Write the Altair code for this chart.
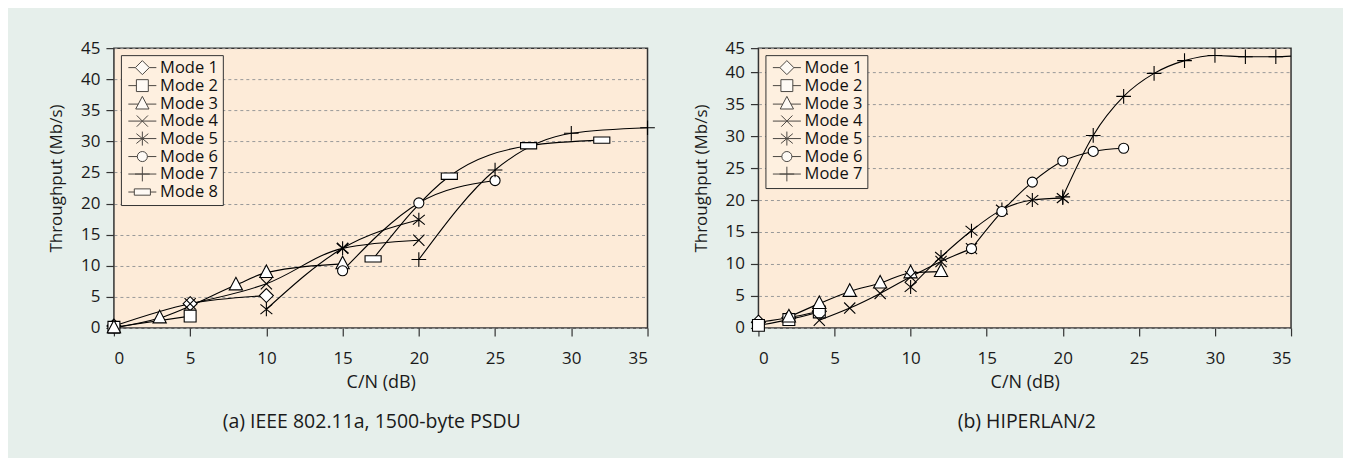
import altair as alt
import pandas as pd

FONT = "Open Sans"
PLOT_BG = "#FDEBD8"
PAGE_BG = "#E6EFEB"

modes_a = ["Mode 1", "Mode 2", "Mode 3", "Mode 4", "Mode 5", "Mode 6", "Mode 7", "Mode 8"]
modes_b = ["Mode 1", "Mode 2", "Mode 3", "Mode 4", "Mode 5", "Mode 6", "Mode 7"]

# (a) IEEE 802.11a, 1500-byte PSDU
a_m1_x = [0, 5, 10];              a_m1_y = [0.3, 3.9, 5.2]
a_m2_x = [0, 5];                  a_m2_y = [0.1, 1.9]
a_m3_x = [0, 3, 8, 10, 15];       a_m3_y = [0.0, 1.6, 6.9, 8.9, 10.3]
a_m4_x = [5, 10, 15, 20];         a_m4_y = [3.9, 7.1, 12.8, 14.1]
a_m5_x = [10, 15, 20];            a_m5_y = [3.0, 12.8, 17.4]
a_m6_x = [15, 20, 25];            a_m6_y = [9.2, 20.1, 23.7]
a_m7_x = [20, 25, 30, 35];        a_m7_y = [11.0, 25.4, 31.3, 32.2]
a_m8_x = [17, 22, 27.2, 32];      a_m8_y = [11.1, 24.4, 29.3, 30.2]

# (b) HIPERLAN/2
b_m1_x = [0, 2, 4];                       b_m1_y = [0.9, 1.6, 2.6]
b_m2_x = [0, 2, 4];                       b_m2_y = [0.4, 1.3, 2.5]
b_m3_x = [2, 4, 6, 8, 10, 12];            b_m3_y = [1.7, 3.8, 5.7, 7.0, 8.6, 8.8]
b_m4_x = [4, 6, 8, 10, 12, 14];           b_m4_y = [1.2, 3.1, 5.4, 8.0, 10.4, 12.4]
b_m5_x = [10, 12, 14, 16, 18, 20];        b_m5_y = [6.4, 11.1, 15.2, 18.5, 20.0, 20.3]
b_m6_x = [14, 16, 18, 20, 22, 24];        b_m6_y = [12.4, 18.2, 22.8, 26.1, 27.6, 28.1]
b_m7_x = [20, 22, 24, 26, 28, 30, 32, 34]; b_m7_y = [20.5, 30.1, 36.2, 39.8, 41.8, 42.6, 42.4, 42.4]
b_m7_line_only_x = [35]; b_m7_line_only_y = [42.5]

x_ticks = [0, 5, 10, 15, 20, 25, 30, 35]
a_y_ticks = [0, 5, 10, 15, 20, 25, 30, 35, 40, 45]
b_y_top = 43.75
b_y_ticks = [0, 5, 10, 15, 20, 25, 30, 35, 40, b_y_top]

# ---- marker geometry (unit = 7 px) ----
MARKERS = {
    "Mode 1": ("closed", [[(0, -1), (1, 0), (0, 1), (-1, 0)]], 1.0),
    "Mode 2": ("closed", [[(-0.85, -0.85), (0.85, -0.85), (0.85, 0.85), (-0.85, 0.85)]], 0.85),
    "Mode 3": ("closed", [[(0, -1.1), (0.95, 0.7), (-0.95, 0.7)]], 0.58),
    "Mode 4": ("open", [[(-0.8, -0.8), (0.8, 0.8)], [(-0.8, 0.8), (0.8, -0.8)]], 0.0),
    "Mode 5": ("open", [[(0, -1), (0, 1)], [(-0.85, -0.7), (0.85, 0.7)], [(-0.85, 0.7), (0.85, -0.7)]], 0.0),
    "Mode 6": ("circle", 0.72, 0.72),
    "Mode 7": ("open", [[(-1.05, 0), (1.05, 0)], [(0, -1.05), (0, 1.05)]], 0.0),
    "Mode 8": ("closed", [[(-1.15, -0.45), (1.15, -0.45), (1.15, 0.45), (-1.15, 0.45)]], 1.15),
}


def f(v):
    return f"{v:.3f}".rstrip("0").rstrip(".") if abs(v) > 1e-9 else "0"


def marker_path(mode, k=1.0, dx=0.0):
    kind = MARKERS[mode][0]
    if kind == "circle":
        r = MARKERS[mode][1] * k
        return (f"M{f(dx + r)},0A{f(r)},{f(r)},0,1,1,{f(dx - r)},0"
                f"A{f(r)},{f(r)},0,1,1,{f(dx + r)},0Z")
    out = ""
    for poly in MARKERS[mode][1]:
        pts = [(x * k + dx, y * k) for x, y in poly]
        out += "M" + f(pts[0][0]) + "," + f(pts[0][1])
        for x, y in pts[1:]:
            out += "L" + f(x) + "," + f(y)
        if kind == "closed":
            out += "Z"
    return out


R_LEG = 7.75
DX_PX = 8.95
STUB_PX = 14.0


def legend_path(mode):
    k = 7.0 / R_LEG
    dx = DX_PX / R_LEG
    gap = MARKERS[mode][-1] * k
    stub = STUB_PX / R_LEG
    p = f"M{f(dx - stub)},0L{f(dx - gap)},0M{f(dx + gap)},0L{f(dx + stub)},0"
    return p + marker_path(mode, k, dx)


def build(series, extra):
    rows_l, rows_p = [], []
    for mode, xs, ys in series:
        for x, y in zip(xs, ys):
            rows_l.append({"Mode": mode, "x": x, "y": y})
            rows_p.append({"Mode": mode, "x": x, "y": y})
    for mode, xs, ys in extra:
        for x, y in zip(xs, ys):
            rows_l.append({"Mode": mode, "x": x, "y": y})
    return pd.DataFrame(rows_l), pd.DataFrame(rows_p)


def panel(series, extra, modes, ymax, yticks, label_expr, subtitle, width, sub_dx):
    df_l, df_p = build(series, extra)
    xenc = alt.X("x:Q", scale=alt.Scale(domain=[0, 35], nice=False, zero=False),
                 axis=alt.Axis(values=x_ticks, title="C/N (dB)", grid=False,
                               tickSize=8, labelPadding=15, titlePadding=7,
                               titleFontSize=18))
    ax_kw = dict(values=yticks, title="Throughput (Mb/s)", grid=True,
                 gridDash=[3, 3], gridColor="#999999", gridWidth=1,
                 tickSize=8, labelPadding=6, titlePadding=15, titleFontSize=17,
                 titleY=130)
    if label_expr:
        ax_kw["labelExpr"] = label_expr
    yenc = alt.Y("y:Q", scale=alt.Scale(domain=[0, ymax], nice=False, zero=True),
                 axis=alt.Axis(**ax_kw))

    lines = alt.Chart(df_l).mark_line(interpolate="monotone", color="black",
                                      strokeWidth=1.1).encode(
        x=xenc, y=yenc, detail="Mode:N")
    pts = alt.Chart(df_p).mark_point(filled=True, fill="white", stroke="black",
                                     strokeWidth=1.1, size=196, opacity=1,
                                     clip=False).encode(
        x=xenc, y=yenc,
        shape=alt.Shape("Mode:N", scale=alt.Scale(domain=modes,
                                                  range=[marker_path(m) for m in modes]),
                        legend=None))
    leg = alt.Chart(df_p).transform_filter("datum.x < -1000").mark_point(
        filled=True, fill="white", stroke="black", strokeWidth=1.0, size=196).encode(
        x=xenc, y=yenc,
        shape=alt.Shape("Mode:N",
                        scale=alt.Scale(domain=modes, range=[legend_path(m) for m in modes]),
                        legend=alt.Legend(title=None, orient="top-left", offset=7,
                                          padding=4, rowPadding=-0.5,
                                          symbolSize=R_LEG * R_LEG * 4,
                                          symbolStrokeWidth=1,
                                          labelOffset=18.2, labelFont=FONT,
                                          labelFontSize=16.5, labelColor="#111111",
                                          fillColor="#FEF0E0", strokeColor="#333333")))
    return alt.layer(lines, pts, leg).resolve_scale(shape="independent").properties(
        width=width, height=280,
        title=alt.TitleParams(subtitle, orient="bottom", fontSize=19.5, font=FONT,
                              fontWeight="normal", color="#1a1a1a", offset=21,
                              anchor="middle", dx=sub_dx))


series_a = [("Mode 1", a_m1_x, a_m1_y), ("Mode 2", a_m2_x, a_m2_y), ("Mode 3", a_m3_x, a_m3_y),
            ("Mode 4", a_m4_x, a_m4_y), ("Mode 5", a_m5_x, a_m5_y), ("Mode 6", a_m6_x, a_m6_y),
            ("Mode 7", a_m7_x, a_m7_y), ("Mode 8", a_m8_x, a_m8_y)]
series_b = [("Mode 1", b_m1_x, b_m1_y), ("Mode 2", b_m2_x, b_m2_y), ("Mode 3", b_m3_x, b_m3_y),
            ("Mode 4", b_m4_x, b_m4_y), ("Mode 5", b_m5_x, b_m5_y), ("Mode 6", b_m6_x, b_m6_y),
            ("Mode 7", b_m7_x, b_m7_y)]

left = panel(series_a, [], modes_a, 45, a_y_ticks, None,
             "(a) IEEE 802.11a, 1500-byte PSDU", 534, -9)
right = panel(series_b, [("Mode 7", b_m7_line_only_x, b_m7_line_only_y)], modes_b,
              b_y_top, b_y_ticks, "datum.value > 42 ? '45' : datum.label",
              "(b) HIPERLAN/2", 533, 2)

chart = alt.hconcat(left, right, spacing=32).properties(
    padding={"left": 38, "top": 30, "right": 49, "bottom": 25},
    background=PAGE_BG,
).configure_view(fill=PLOT_BG, stroke="#333333", strokeWidth=1.5).configure_axis(
    labelFont=FONT, labelFontSize=17, labelColor="#1a1a1a",
    titleFont=FONT, titleFontWeight="normal", titleColor="#1a1a1a",
    tickColor="#333333", tickWidth=1.2, domain=False)

chart.save("out.html", embed_options={"renderer": "svg", "actions": False})
